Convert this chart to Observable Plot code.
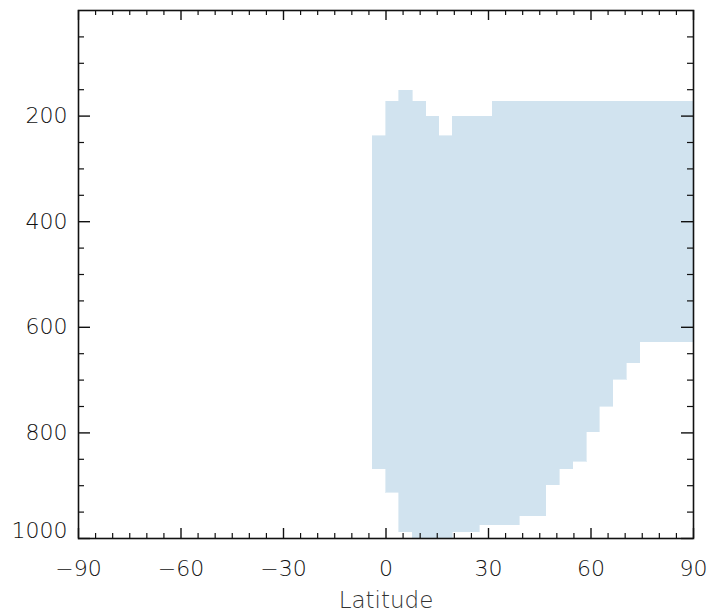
<!DOCTYPE html>
<html><head><meta charset="utf-8">
<script src="https://cdn.jsdelivr.net/npm/d3@7"></script>
<script src="https://cdn.jsdelivr.net/npm/@observablehq/plot@0.6"></script>
<style>body{margin:0;background:#fff;} #chart svg{display:block;}</style>
</head><body><div id="chart"></div>
<script>
// Latitude bands (cell edges, degrees) and pressure extent (hPa) of the shaded region
const latLo   = [-3.91, 0.00, 3.91, 7.83, 11.74, 15.65, 19.57, 27.39, 31.30, 39.13, 46.96, 50.87, 54.78, 58.70, 62.61, 66.52, 70.43, 74.35];
const latHi   = [ 0.00, 3.91, 7.83, 11.74, 15.65, 19.57, 27.39, 31.30, 39.13, 46.96, 50.87, 54.78, 58.70, 62.61, 66.52, 70.43, 74.35, 90.00];
const pTop    = [238, 173, 152, 173, 201, 238, 201, 201, 173, 173, 173, 173, 173, 173, 173, 173, 173, 173];
const pBottom = [869, 913, 988, 1000, 1000, 1000, 988, 975, 975, 958, 899, 869, 855, 799, 750, 699, 668, 628];

// Tick labels
const xTicks = [-90, -60, -30, 0, 30, 60, 90];
const yTicks = [200, 400, 600, 800, 1000];
const xMinor = d3.range(-90, 91, 5).filter(v => !xTicks.includes(v));
const yMinor = d3.range(50, 1000, 50).filter(v => !yTicks.includes(v));

const cells = latLo.map((lo, i) => ({lo, hi: latHi[i], top: pTop[i], bottom: pBottom[i]}));

const W = 710, H = 612;
const mL = 78, mR = 17, mT = 10, mB = 74;
const fw = W - mL - mR, fh = H - mT - mB;
const ink = "#111";
const font = "DejaVu Sans";
const fill = "#d1e3ef";

const chart = Plot.plot({
  width: W, height: H,
  marginLeft: mL, marginRight: mR, marginTop: mT, marginBottom: mB,
  style: {fontFamily: font, fontSize: "22px", fontWeight: 300, color: ink, background: "#fff"},
  x: {domain: [-90, 90], axis: null},
  y: {domain: [0, 1000], reverse: true, axis: null},
  marks: [
    Plot.rect(cells, {x1: "lo", x2: "hi", y1: "top", y2: "bottom", fill, stroke: fill, strokeWidth: 0.6, shapeRendering: "crispEdges"}),
    // bottom & top ticks (inward)
    Plot.ruleX(xTicks, {insetTop: fh - 10, stroke: ink, strokeWidth: 1.4}),
    Plot.ruleX(xMinor, {insetTop: fh - 5, stroke: ink, strokeWidth: 1.2}),
    Plot.ruleX(xTicks, {insetBottom: fh - 10, stroke: ink, strokeWidth: 1.4}),
    Plot.ruleX(xMinor, {insetBottom: fh - 5, stroke: ink, strokeWidth: 1.2}),
    // left & right ticks (inward)
    Plot.ruleY(yTicks, {insetRight: fw - 12, stroke: ink, strokeWidth: 1.4}),
    Plot.ruleY(yMinor, {insetRight: fw - 6, stroke: ink, strokeWidth: 1.2}),
    Plot.ruleY(yTicks, {insetLeft: fw - 12, stroke: ink, strokeWidth: 1.4}),
    Plot.ruleY(yMinor, {insetLeft: fw - 6, stroke: ink, strokeWidth: 1.2}),
    Plot.frame({stroke: ink, strokeWidth: 1.6}),
    Plot.axisX({ticks: xTicks, tickSize: 0, tickPadding: 22, tickFormat: d3.format("d"), label: null, fontSize: 22, fill: ink}),
    Plot.axisY({ticks: yTicks.slice(0, 4), tickSize: 0, tickPadding: 11, tickFormat: d3.format("d"), label: null, fontSize: 22, fill: ink}),
    Plot.axisY({ticks: [1000], tickSize: 0, tickPadding: 11, tickFormat: d3.format("d"), label: null, fontSize: 22, fill: ink, dy: -8}),
    Plot.text(["Latitude"], {frameAnchor: "bottom", dy: 62, lineAnchor: "middle", fontSize: 23, fill: "#333", text: d => d})
  ]
});
document.getElementById("chart").appendChild(chart);
</script>
</body></html>
